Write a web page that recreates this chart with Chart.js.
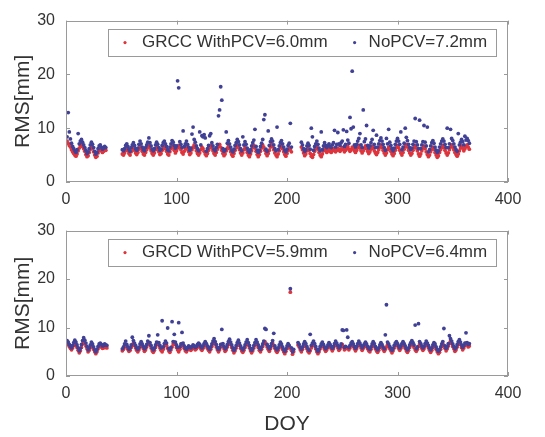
<!DOCTYPE html>
<html>
<head>
<meta charset="utf-8">
<script src="https://cdn.jsdelivr.net/npm/chart.js@4/dist/chart.umd.min.js"></script>
<style>
  html, body { margin: 0; padding: 0; background: #fff; }
  #wrap { position: relative; width: 545px; height: 437px; overflow: hidden; }
  canvas { position: absolute; left: 0; }
  #top { top: 0; }
  #bottom { top: 210px; }
</style>
</head>
<body>
<div id="wrap">
  <canvas id="top" width="545" height="210"></canvas>
  <canvas id="bottom" width="545" height="227"></canvas>
</div>
<script>
const N = null;

// Daily RMS (mm), DOY 1..365, null = no solution that day
const grccWith = [
  7.6,7.2,6.8,6.5,6.0,5.6,5.3,5.0,4.8,5.2,
  5.8,6.3,6.8,7.0,6.6,6.2,5.7,5.1,4.7,4.9,
  5.5,6.1,6.5,6.2,5.6,5.0,4.6,4.8,5.4,5.9,
  6.1,5.8,5.5,5.7,6.0,5.9,N,N,N,N,
  N,N,N,N,N,N,N,N,N,N,
  5.2,5.0,5.4,5.9,6.3,5.8,5.3,5.0,5.6,6.0,
  6.4,5.9,5.4,5.1,5.5,6.1,6.6,6.2,5.7,5.2,
  5.0,5.5,6.0,6.5,6.8,6.3,5.8,5.3,5.0,5.4,
  6.0,6.4,6.1,5.6,5.1,5.3,5.9,6.3,6.6,6.2,
  5.7,5.2,5.0,5.6,6.2,6.7,6.4,5.9,5.4,5.8,
  6.3,6.8,6.5,6.0,5.5,5.2,5.7,6.2,6.6,6.1,
  5.6,5.1,5.4,6.0,6.5,6.9,6.4,5.8,5.3,5.0,
  5.4,6.0,6.5,6.2,5.7,5.2,4.9,5.3,5.9,6.4,
  6.8,6.3,5.8,5.3,5.0,5.5,6.1,6.6,7.0,6.5,
  5.9,5.3,4.9,5.2,5.8,6.3,6.7,6.2,5.6,5.1,
  4.8,5.3,5.9,6.4,6.9,6.5,6.0,5.4,5.0,5.4,
  6.0,6.5,6.1,5.5,5.0,4.7,5.2,5.8,6.4,6.8,
  6.3,5.7,5.1,4.7,5.1,5.7,6.3,6.9,6.5,5.9,
  5.3,4.9,5.3,5.9,6.5,7.0,6.6,6.0,5.4,5.0,
  4.7,5.2,5.8,6.4,6.7,6.2,5.6,5.1,4.8,5.3,
  5.9,6.3,6.0,5.6,N,N,N,N,N,N,
  N,N,6.5,6.0,5.4,4.9,5.2,5.8,6.3,5.9,
  5.3,4.8,4.6,5.1,5.7,6.2,6.6,6.1,5.5,5.0,
  4.7,5.2,5.8,6.3,5.9,5.5,5.8,6.1,5.7,5.5,
  5.9,6.2,5.8,5.6,5.9,6.3,6.0,5.7,6.1,6.4,
  6.0,5.6,5.9,6.3,6.6,6.1,5.7,6.0,6.5,6.2,
  5.8,5.5,5.9,6.4,6.8,6.3,5.8,5.4,5.8,6.3,
  6.7,6.2,5.7,5.3,5.6,6.1,6.6,6.3,5.8,5.4,
  5.1,5.5,6.0,6.5,6.9,6.4,5.9,5.4,5.0,5.4,
  6.0,6.5,6.2,5.7,5.2,4.9,5.3,5.9,6.4,6.8,
  6.4,5.9,5.4,5.0,5.5,6.1,6.6,7.0,6.5,5.9,
  5.4,5.0,5.3,5.9,6.4,6.8,6.3,5.8,5.2,4.8,
  5.2,5.8,6.3,6.7,6.2,5.6,5.1,4.7,5.0,5.6,
  6.1,6.5,6.1,5.5,5.0,4.6,4.9,5.5,6.0,6.4,
  6.8,6.4,5.9,5.4,5.0,5.4,6.0,6.5,6.9,6.5,
  6.0,5.5,5.1,4.8,5.2,5.8,6.3,6.7,6.3,5.8,
  6.2,6.6,6.9,6.5,6.1
];

const grccNo = [
  8.4,12.9,9.3,8.0,7.2,6.6,6.2,5.8,5.5,6.0,
  9.0,7.1,7.6,7.9,7.4,6.9,6.4,5.9,5.3,5.6,
  6.2,6.9,7.4,7.0,6.4,5.7,5.2,5.5,6.2,6.7,
  6.9,6.5,6.1,6.3,6.6,6.4,N,N,N,N,
  N,N,N,N,N,N,N,N,N,N,
  6.0,5.8,6.2,6.8,7.1,6.6,6.1,5.7,6.4,6.9,
  7.3,6.8,6.2,5.9,6.3,7.0,7.6,7.1,6.5,6.0,
  5.8,6.4,6.9,7.4,8.2,7.3,6.7,6.1,5.8,6.2,
  6.9,7.4,7.0,6.4,5.9,6.1,6.8,7.3,7.6,7.1,
  6.6,6.0,5.8,6.5,7.1,7.7,7.4,6.8,6.3,6.7,
  18.8,17.5,7.5,7.0,6.4,9.5,6.6,7.1,7.6,7.0,
  6.5,5.9,6.3,8.9,10.2,7.9,7.4,6.7,6.2,5.8,
  9.3,6.9,8.6,8.4,8.8,8.2,5.7,6.2,6.8,8.6,
  9.0,7.3,6.7,6.1,5.8,6.4,7.0,12.3,13.4,17.7,
  15.2,6.2,5.7,6.0,9.3,7.2,7.7,7.1,6.5,5.9,
  5.6,6.1,6.8,7.3,7.9,7.5,6.9,6.2,5.8,8.4,
  6.9,7.5,7.0,6.3,5.8,5.5,6.0,6.7,7.3,7.8,
  9.8,6.6,5.9,5.5,5.9,6.6,7.2,7.9,11.6,12.5,
  6.1,5.7,9.5,6.8,7.5,8.0,7.6,6.9,6.2,5.8,
  10.2,6.0,6.7,7.3,7.7,7.1,6.5,5.9,5.6,6.1,
  6.8,7.2,10.9,6.5,N,N,N,N,N,N,
  N,N,7.4,6.9,6.2,5.7,6.0,6.7,7.2,6.8,
  6.1,10.0,8.4,5.9,6.6,7.1,7.6,7.0,6.3,5.8,
  9.3,6.0,6.7,7.3,6.8,6.4,6.7,7.1,6.6,6.4,
  6.9,7.3,9.6,6.5,7.0,9.2,7.1,6.8,7.3,7.6,
  9.7,6.6,7.0,9.4,7.8,7.2,12.0,9.9,20.6,10.2,
  6.9,6.5,7.0,7.6,8.1,9.0,6.9,6.4,13.4,7.5,
  8.0,10.5,6.8,6.3,6.7,7.3,7.9,9.6,7.0,6.4,
  8.7,6.5,7.1,7.7,8.2,7.6,7.0,6.4,5.9,8.1,
  7.1,9.8,7.4,6.8,6.2,5.8,6.3,7.0,7.6,8.1,
  7.6,7.0,9.3,6.0,6.5,7.2,10.0,8.3,7.7,7.0,
  6.4,6.0,6.3,7.0,7.6,11.8,7.5,6.9,6.2,11.5,
  6.2,6.9,7.5,10.5,7.4,6.7,10.2,5.6,6.0,6.7,
  7.3,7.7,7.2,6.5,5.9,5.5,5.8,6.5,7.1,7.6,
  8.0,7.6,7.0,6.4,10.0,6.4,7.1,9.8,8.1,7.7,
  7.1,6.5,6.0,5.7,9.0,6.9,7.4,7.9,7.5,6.9,
  8.5,7.8,8.1,7.7,7.2
];

const grcdWith = [
  6.8,6.5,6.1,5.7,5.4,5.8,6.3,6.7,6.4,5.9,
  5.3,4.8,5.2,5.9,6.6,7.1,6.8,6.2,5.6,5.0,
  5.3,5.9,6.4,6.1,5.5,5.0,4.6,5.0,5.6,6.1,
  6.3,6.0,5.7,5.8,6.1,5.9,5.8,N,N,N,
  N,N,N,N,N,N,N,N,N,N,
  5.2,5.5,6.0,6.4,6.0,5.5,5.1,5.3,5.9,6.4,
  6.8,6.3,5.8,5.3,5.0,5.4,6.0,6.5,6.1,5.6,
  5.1,5.4,6.0,6.6,6.9,6.4,5.8,5.2,4.9,5.3,
  5.9,6.5,6.9,6.4,5.8,5.3,5.0,5.5,6.2,6.7,
  6.3,5.7,5.2,4.9,5.4,6.0,6.6,7.0,6.5,5.9,
  5.4,5.0,5.5,6.1,6.7,6.3,5.7,5.2,5.0,5.4,
  5.7,5.5,5.3,5.6,5.9,5.7,5.4,5.6,6.0,6.3,
  6.0,5.6,5.3,5.7,6.2,6.6,6.2,5.7,5.3,5.0,
  5.5,6.1,6.7,7.1,6.6,6.0,5.4,5.0,5.4,6.0,
  6.5,6.2,5.6,5.1,5.4,6.0,6.6,7.0,6.5,5.9,
  5.3,4.8,5.2,5.8,6.4,6.8,6.3,5.7,5.2,4.9,
  5.3,5.9,6.5,6.9,6.4,5.8,5.2,4.8,5.2,5.8,
  6.4,6.9,6.5,5.9,5.3,5.0,5.5,6.1,6.7,7.1,
  6.6,6.0,5.5,5.1,5.6,6.2,6.8,6.3,5.7,5.2,
  4.9,5.3,5.9,6.5,6.1,5.5,5.0,4.6,5.1,5.7,
  6.2,5.8,17.3,5.3,4.5,5.0,N,N,N,6.4,
  6.0,5.4,5.0,5.5,6.1,6.6,6.2,5.6,5.1,4.8,
  5.2,5.8,6.3,6.7,6.2,5.6,5.0,4.6,5.0,5.6,
  6.1,6.5,6.0,5.5,5.1,5.4,5.9,6.4,6.0,5.6,
  5.2,5.6,6.2,6.7,6.3,5.8,5.3,5.6,6.1,6.5,
  6.0,5.4,5.6,5.9,5.7,5.4,5.8,6.3,6.6,6.1,
  5.6,5.2,5.6,6.2,6.7,6.3,5.8,5.3,5.7,6.1,
  6.5,6.1,5.6,5.2,5.0,5.5,6.1,6.6,6.2,5.6,
  5.2,4.9,5.3,5.9,6.4,6.0,5.5,5.1,5.5,6.0,
  6.5,6.1,5.6,5.2,4.8,5.2,5.8,6.3,6.6,6.2,
  5.7,5.3,5.7,6.2,6.6,6.2,5.7,5.2,4.9,5.3,
  5.9,6.4,6.8,6.4,5.9,5.4,5.1,5.5,6.1,6.6,
  6.2,5.7,5.3,5.6,6.2,6.7,6.3,5.8,5.3,4.9,
  5.3,5.9,6.4,6.1,5.5,5.0,4.6,4.9,5.5,6.1,
  6.6,6.3,5.7,5.2,5.6,6.2,6.8,7.2,6.7,6.1,
  5.6,5.1,5.4,6.0,6.6,7.0,6.5,5.9,5.4,5.8,
  6.3,6.8,6.4,6.0,6.2
];

const grcdNo = [
  7.3,7.0,6.5,6.1,5.8,6.3,6.9,7.4,7.0,6.4,
  5.8,5.2,5.7,6.5,7.3,7.9,7.4,6.8,6.1,5.4,
  5.8,6.4,7.0,6.6,6.0,5.4,5.0,5.5,6.1,6.6,
  6.8,6.5,6.2,6.3,6.6,6.4,6.3,N,N,N,
  N,N,N,N,N,N,N,N,N,N,
  5.6,6.0,6.6,7.2,6.5,6.0,5.5,5.8,6.4,8.0,
  7.3,6.8,6.3,5.8,5.5,5.9,6.6,7.1,6.6,6.1,
  5.6,5.9,6.5,7.2,8.3,6.9,6.3,5.7,5.4,5.8,
  6.4,7.0,8.5,6.9,6.3,5.8,11.4,6.0,6.7,7.2,
  6.8,9.9,5.7,5.4,5.9,11.2,7.1,8.6,7.0,6.4,
  5.9,11.0,6.0,6.6,9.0,6.8,6.2,5.7,5.5,5.9,
  6.2,6.0,5.8,6.1,6.4,6.2,5.9,6.1,6.5,6.8,
  6.5,6.1,5.8,6.2,6.7,7.1,6.7,6.2,5.8,5.5,
  6.0,6.6,7.2,7.7,7.1,6.5,5.9,5.5,5.9,6.5,
  9.6,6.7,6.1,5.6,5.9,6.5,7.1,7.6,7.0,6.4,
  5.8,5.3,5.7,6.3,6.9,7.4,6.8,6.2,5.7,5.4,
  5.8,6.4,7.0,7.5,6.9,6.3,5.7,5.3,5.7,6.3,
  6.9,7.5,7.0,6.4,5.8,5.5,6.0,6.6,7.2,9.8,
  9.6,6.5,6.0,5.6,6.1,6.7,7.3,8.8,6.2,5.7,
  5.4,5.8,6.4,7.0,6.6,6.0,5.5,5.1,5.6,6.2,
  6.7,6.3,18.0,5.8,5.0,5.5,N,N,N,6.9,
  6.5,5.9,5.5,6.0,6.6,7.1,6.7,6.1,5.6,5.3,
  8.6,6.3,6.8,7.2,6.7,6.1,5.5,5.1,5.5,6.1,
  6.6,7.0,6.5,6.0,5.6,5.9,6.4,6.9,6.5,6.1,
  5.7,6.1,6.7,7.2,6.8,6.3,5.8,6.1,6.6,9.5,
  9.4,5.9,6.1,9.5,8.0,5.9,6.3,6.8,7.1,6.6,
  6.1,5.7,6.1,6.7,7.2,6.8,6.3,5.8,6.2,6.6,
  7.0,6.6,6.1,5.7,5.5,6.0,6.6,7.1,6.7,6.1,
  5.7,5.4,5.8,6.4,6.9,6.5,6.0,5.6,8.5,14.7,
  7.0,6.6,6.1,5.7,5.3,5.7,6.3,6.8,7.1,6.7,
  6.2,5.8,6.2,6.7,7.1,6.7,6.2,5.7,5.4,5.8,
  6.4,6.9,7.3,6.9,6.4,10.5,5.6,6.0,10.8,7.1,
  6.7,6.2,5.8,6.1,6.7,7.2,6.8,6.3,5.8,5.4,
  5.8,6.4,6.9,6.6,6.0,5.5,5.1,5.4,6.0,6.6,
  7.1,9.8,6.2,5.7,6.1,6.7,8.3,7.7,7.2,6.6,
  6.1,5.6,5.9,6.5,7.1,7.5,7.0,6.4,5.9,6.3,
  6.8,8.9,6.9,6.5,6.7
];

// Legend texts (mean RMS per solution)
const topLabels = ['GRCC WithPCV=6.0mm', 'NoPCV=7.2mm'];
const bottomLabels = ['GRCD WithPCV=5.9mm', 'NoPCV=6.4mm'];

// Axis ticks and titles
const xTicks = [0, 100, 200, 300, 400];
const yTicks = [0, 10, 20, 30];
const yTitle = 'RMS[mm]';
const xTitle = 'DOY';

const RED = 'rgb(222,52,60)';
const BLUE = 'rgb(64,64,150)';
const FONT = "'Liberation Sans', Arial, Helvetica, sans-serif";
const TEXT = '#333333';
const FRAME = '#9a9a9a';

function toPoints(values) {
  const pts = [];
  values.forEach((v, i) => { if (v !== null) pts.push({ x: i + 1, y: v }); });
  return pts;
}

// MATLAB-style axes box with inward tick marks on all four sides
const axesBox = {
  id: 'axesBox',
  afterDatasetsDraw(chart) {
    const { ctx, chartArea: a, scales: { x, y } } = chart;
    ctx.save();
    ctx.strokeStyle = FRAME;
    ctx.lineWidth = 1;
    ctx.strokeRect(Math.round(a.left) + 0.5, Math.round(a.top) + 0.5,
                   Math.round(a.width) - 1, Math.round(a.height) - 1);
    const len = 4;
    ctx.beginPath();
    x.ticks.forEach(t => {
      const px = Math.round(x.getPixelForValue(t.value)) + 0.5;
      ctx.moveTo(px, a.bottom); ctx.lineTo(px, a.bottom - len);
      ctx.moveTo(px, a.top); ctx.lineTo(px, a.top + len);
    });
    y.ticks.forEach(t => {
      const py = Math.round(y.getPixelForValue(t.value)) + 0.5;
      ctx.moveTo(a.left, py); ctx.lineTo(a.left + len, py);
      ctx.moveTo(a.right, py); ctx.lineTo(a.right - len, py);
    });
    ctx.stroke();
    ctx.restore();
  }
};

// Boxed legend in the upper part of the axes
const boxLegend = {
  id: 'boxLegend',
  afterDraw(chart) {
    const { ctx, chartArea: a } = chart;
    const ds = chart.data.datasets;
    ctx.save();
    ctx.font = '17px ' + FONT;
    const w0 = ctx.measureText(ds[0].label).width;
    const w1 = ctx.measureText(ds[1].label).width;
    const left = a.left + 42;
    const top = a.top + 8;
    const h = 27;
    const width = 34 + w0 + 27 + 14 + w1 + 9;
    ctx.fillStyle = '#ffffff';
    ctx.fillRect(left, top, width, h);
    ctx.strokeStyle = FRAME;
    ctx.lineWidth = 1;
    ctx.strokeRect(Math.round(left) + 0.5, Math.round(top) + 0.5, Math.round(width), h);
    const cy = top + h / 2 + 0.5;
    const m0 = left + 17;
    const t0 = left + 34;
    const m1 = t0 + w0 + 27;
    const t1 = m1 + 14;
    ctx.fillStyle = ds[0].backgroundColor;
    ctx.beginPath(); ctx.arc(m0, cy, 1.6, 0, Math.PI * 2); ctx.fill();
    ctx.fillStyle = ds[1].backgroundColor;
    ctx.beginPath(); ctx.arc(m1, cy, 1.6, 0, Math.PI * 2); ctx.fill();
    ctx.fillStyle = TEXT;
    ctx.textBaseline = 'middle';
    ctx.textAlign = 'left';
    ctx.fillText(ds[0].label, t0, cy);
    ctx.fillText(ds[1].label, t1, cy);
    ctx.restore();
  }
};

function makeChart(id, withVals, noVals, labels, opts) {
  return new Chart(document.getElementById(id), {
    type: 'scatter',
    data: {
      datasets: [
        { label: labels[0], data: toPoints(withVals), backgroundColor: RED,
          borderColor: RED, pointRadius: 1.9, pointBorderWidth: 0, order: 2 },
        { label: labels[1], data: toPoints(noVals), backgroundColor: BLUE,
          borderColor: BLUE, pointRadius: 1.9, pointBorderWidth: 0, order: 1 }
      ]
    },
    options: {
      responsive: false,
      animation: false,
      devicePixelRatio: 1,
      layout: { padding: { top: opts.top, right: 37, bottom: 0, left: 0 } },
      plugins: { legend: { display: false }, tooltip: { enabled: false } },
      scales: {
        x: {
          type: 'linear', min: xTicks[0], max: xTicks[xTicks.length - 1],
          afterBuildTicks(s) { s.ticks = xTicks.map(v => ({ value: v })); },
          afterFit(s) { s.height = opts.xHeight; },
          grid: { display: false, drawTicks: false },
          border: { display: false },
          ticks: { font: { family: FONT, size: 16 }, color: TEXT, padding: 8, maxRotation: 0 },
          title: { display: !!opts.xTitle, text: opts.xTitle || '',
                   font: { family: FONT, size: 21 }, color: TEXT, padding: { top: 0, bottom: 0 } }
        },
        y: {
          min: yTicks[0], max: yTicks[yTicks.length - 1],
          afterBuildTicks(s) { s.ticks = yTicks.map(v => ({ value: v })); },
          afterFit(s) { s.width = 66; },
          grid: { display: false, drawTicks: false },
          border: { display: false },
          ticks: { font: { family: FONT, size: 16 }, color: TEXT, padding: 11 },
          title: { display: true, text: yTitle, font: { family: FONT, size: 21 },
                   color: TEXT, padding: { top: 11, bottom: 0 } }
        }
      }
    },
    plugins: [axesBox, boxLegend]
  });
}

makeChart('top', grccWith, grccNo, topLabels, { top: 15, xHeight: 28 });
makeChart('bottom', grcdWith, grcdNo, bottomLabels, { top: 8, xHeight: 61, xTitle: xTitle });
</script>
</body>
</html>
